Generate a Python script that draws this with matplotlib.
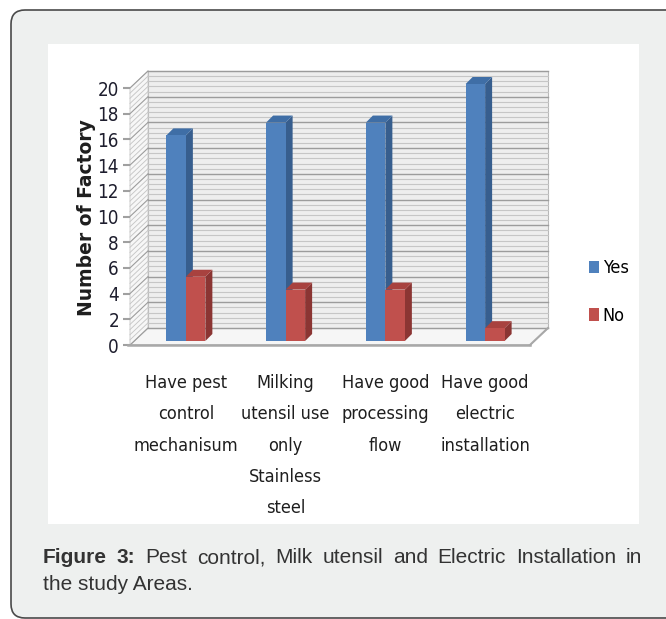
import numpy as np
import matplotlib
matplotlib.use('Agg')
import matplotlib.pyplot as plt
from matplotlib import font_manager
from matplotlib.patches import Polygon, Rectangle, FancyBboxPatch, Patch
from matplotlib.transforms import IdentityTransform

# data
categories = ['Have pest\ncontrol\nmechanisum',
              'Milking\nutensil use\nonly\nStainless\nsteel',
              'Have good\nprocessing\nflow',
              'Have good\nelectric\ninstallation']
yes_vals = [16, 17, 17, 20]
no_vals = [5, 4, 4, 1]
series_names = ['Yes', 'No']
yticks = list(range(0, 21, 2))

W, H = 666, 619
fig = plt.figure(figsize=(W / 100, H / 100), dpi=100)
fig.patch.set_facecolor('white')

# pick a narrow font if there is one
names = {f.name for f in font_manager.fontManager.ttflist}
cond = any(f.name == 'DejaVu Sans' and f.stretch == 'condensed'
           for f in font_manager.fontManager.ttflist)
if 'Liberation Sans Narrow' in names:
    narrow = dict(family='Liberation Sans Narrow')
elif cond:
    narrow = dict(family='DejaVu Sans', stretch='condensed')
else:
    narrow = dict(family='Liberation Sans')


def px(x, y):
    # image pixel -> figure fraction
    return x / W, 1 - y / H


# outer rounded box + white chart panel (behind the axes)
ident = IdentityTransform()
fig.patches.append(FancyBboxPatch((11, 1), 680, H - 11,
                                  boxstyle='round,pad=0,rounding_size=14',
                                  fc='#eef0ef', ec='#4a4a4a', lw=1.2,
                                  transform=ident, figure=fig, zorder=-3))
fig.patches.append(Rectangle((48, H - 524), 591, 480, fc='white', ec='none',
                             transform=ident, figure=fig, zorder=-2))

# front plane of the chart
x_left, x_right, y0px, y20px = 130, 530, 345, 88
ax = fig.add_axes([x_left / W, 1 - y0px / H, (x_right - x_left) / W,
                   (y0px - y20px) / H])
ax.set_facecolor('none')
xmin, xmax = -0.52, 3.49
ax.set_xlim(xmin, xmax)
ax.set_ylim(0, 20)
for s in ax.spines.values():
    s.set_visible(False)

# pixel -> data unit scales
sx = (xmax - xmin) / (x_right - x_left)
sy = 20 / (y0px - y20px)
bdx, bdy = 18 * sx, 17 * sy      # back wall depth
mdx, mdy = 4 * sx, 4 * sy        # bars sit a bit behind the front
ddx, ddy = 7 * sx, 7 * sy        # bar depth

# floor
ax.add_patch(Polygon([(xmin, 0), (xmax, 0), (xmax + bdx, bdy), (xmin + bdx, bdy)],
                     closed=True, fc='#f6f6f6', ec='#b0b0b0', lw=0.8, clip_on=False, zorder=1))
ax.plot([xmin - 2 * sx, xmax], [0, 0], color='#a8a8a8', lw=1.8, clip_on=False, zorder=2)
ax.plot([xmax, xmax + bdx], [0, bdy], color='#a8a8a8', lw=1.5, clip_on=False, zorder=2)

# back wall
ax.add_patch(Polygon([(xmin + bdx, bdy), (xmax + bdx, bdy), (xmax + bdx, 20 + bdy),
                      (xmin + bdx, 20 + bdy)],
                     closed=True, fc='#eeeeee', ec='#b8b8b8', lw=0.8, clip_on=False, zorder=1))
# left side wall
ax.add_patch(Polygon([(xmin, 0), (xmin + bdx, bdy), (xmin + bdx, 20 + bdy), (xmin, 20)],
                     closed=True, fc='#f7f7f7', ec='#c8c8c8', lw=0.6, clip_on=False, zorder=1))

minor = np.arange(0, 20.01, 0.4)
for v in minor:
    major = abs(v / 2 - round(v / 2)) < 1e-6
    c = '#9c9c9c' if major else '#c6c6c6'
    lw = 1.0 if major else 0.8
    ax.plot([xmin + bdx, xmax + bdx], [v + bdy, v + bdy], color=c, lw=lw,
            clip_on=False, zorder=1.5)
    ax.plot([xmin, xmin + bdx], [v, v + bdy], color=c, lw=lw * 0.8,
            clip_on=False, zorder=1.5)

# bars
bw = 19.5 * sx
colors = {'Yes': ('#4f81bd', '#3f6ea6', '#375e8e'),
          'No': ('#c0504d', '#a8423f', '#8b3533')}


def bar3d(x, v, cols, z):
    front, top, side = cols
    x = x + mdx
    b = mdy
    ax.add_patch(Polygon([(x + bw, b), (x + bw + ddx, b + ddy), (x + bw + ddx, b + v + ddy),
                          (x + bw, b + v)], closed=True, fc=side, ec='none',
                         clip_on=False, zorder=z))
    ax.add_patch(Polygon([(x, b + v), (x + bw, b + v), (x + bw + ddx, b + v + ddy),
                          (x + ddx, b + v + ddy)], closed=True, fc=top, ec='none',
                         clip_on=False, zorder=z))
    ax.add_patch(Rectangle((x, b), bw, v, fc=front, ec='none', clip_on=False, zorder=z + 0.1))


for i in range(len(categories)):
    bar3d(i - bw, yes_vals[i], colors['Yes'], 3)
    bar3d(i, no_vals[i], colors['No'], 4)

# axes ticks and labels
ax.set_yticks(yticks)
ax.set_yticklabels([str(t) for t in yticks], fontsize=13.5, color='#1e1e2e', **narrow)
ax.tick_params(axis='y', direction='out', length=5, width=1.5, color='#a0a0a0', pad=3)
ax.set_xticks([i + mdx for i in range(len(categories))])
ax.set_xticklabels(categories, fontsize=13, color='#1e1e1e', **narrow)
ax.tick_params(axis='x', length=0, pad=21)
for t in ax.get_xticklabels():
    t.set_linespacing(1.95)

fig.text(*px(86, 218), 'Number of Factory', rotation=90, ha='center', va='center',
         fontsize=13.5, fontweight='bold', color='#1e1e1e', family='DejaVu Sans')

handles = [Patch(fc=colors[n][0], ec='none') for n in series_names]
fig.legend(handles, series_names, loc='upper left', bbox_to_anchor=px(573, 243),
           frameon=False, prop=dict(size=13, **narrow),
           handlelength=0.55, handleheight=0.7, handletextpad=0.2, labelspacing=1.65)

# caption, first line justified
renderer = fig.canvas.get_renderer()
words = [('Figure', 'bold'), ('3:', 'bold')] + [(w, 'normal') for w in
         'Pest control, Milk utensil and Electric Installation in'.split()]
objs = []
for w, wt in words:
    objs.append(fig.text(0, 0, w, fontsize=15, fontweight=wt, color='#333333',
                         family='Liberation Sans', va='baseline', ha='left'))
widths = [o.get_window_extent(renderer).width for o in objs]
left, right = 43, 642
gap = (right - left - sum(widths)) / (len(words) - 1)
xcur = left
for o, wd in zip(objs, widths):
    o.set_position(px(xcur, 563))
    xcur += wd + gap
fig.text(*px(43, 590), 'the study Areas.', fontsize=15, color='#333333',
         family='Liberation Sans', va='baseline', ha='left')

fig.savefig('out.png', dpi=100, facecolor=fig.get_facecolor())
